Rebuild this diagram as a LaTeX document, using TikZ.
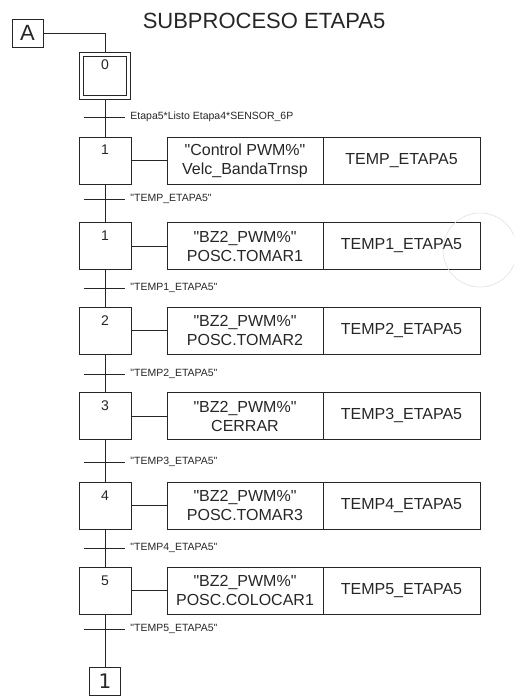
\documentclass[tikz,border=0pt]{standalone}
\usepackage{fontspec}
\setmainfont{Liberation Sans}
\newfontfamily\dejavu{DejaVu Sans}
\usetikzlibrary{positioning}
\newcommand{\qd}{\textquotedbl}

\begin{document}
\begin{tikzpicture}[x=1pt, y=-1pt, line width=0.9pt, color=black!85,
  stepbox/.style={draw, minimum width=52pt, minimum height=47pt, inner sep=0pt, outer sep=0pt,
    text height=10pt, text depth=21pt, font=\fontsize{14}{16}\selectfont},
  initbox/.style={stepbox, double, double distance=3pt, minimum width=47.2pt,
    minimum height=43.2pt, outer sep=2.4pt, text depth=22pt},
  actbox/.style={draw, minimum width=156pt, minimum height=47pt, inner sep=0pt, outer sep=0pt,
    align=center, font=\fontsize{16}{19}\selectfont},
  tmpbox/.style={actbox, minimum width=157pt},
  condlbl/.style={anchor=west, inner sep=0pt, font=\fontsize{10.5}{12}\selectfont},
  portbox/.style={draw, minimum width=31pt, minimum height=28pt, inner sep=0pt}]
  \useasboundingbox (0,0) rectangle (513,700);

  % ===== Title and entry =====
  \node[font=\fontsize{22}{26}\selectfont] (title) at (264,21) {SUBPROCESO ETAPA5};
  \node[portbox, font=\fontsize{22}{26}\selectfont] (A) at (27.5,33) {A};
  \node[initbox] (s0) at (105,76) {0};
  \draw (A) -| (s0);

  % ===== Steps, actions and transitions =====
  \foreach \i/\num/\yc/\yt/\act/\tmp/\cond in {
    1/1/160.5/117/{\qd Control PWM\%\qd\\Velc\_BandaTrnsp}/TEMP\_ETAPA5/{Etapa5*Listo Etapa4*SENSOR\_6P},
    2/1/246/199/{\qd BZ2\_PWM\%\qd\\POSC.TOMAR1}/TEMP1\_ETAPA5/{\qd TEMP\_ETAPA5\qd},
    3/2/330.5/288/{\qd BZ2\_PWM\%\qd\\POSC.TOMAR2}/TEMP2\_ETAPA5/{\qd TEMP1\_ETAPA5\qd},
    4/3/416/374/{\qd BZ2\_PWM\%\qd\\CERRAR}/TEMP3\_ETAPA5/{\qd TEMP2\_ETAPA5\qd},
    5/4/505.5/462/{\qd BZ2\_PWM\%\qd\\POSC.TOMAR3}/TEMP4\_ETAPA5/{\qd TEMP3\_ETAPA5\qd},
    6/5/590.5/548/{\qd BZ2\_PWM\%\qd\\POSC.COLOCAR1}/TEMP5\_ETAPA5/{\qd TEMP4\_ETAPA5\qd}} {
    \pgfmathtruncatemacro\prev{\i-1}
    \node[stepbox] (s\i) at (105,\yc) {\num};
    \node[actbox, right=36pt of s\i] (act\i) {\act};
    \node[tmpbox, right=0pt of act\i] (tmp\i) {\tmp};
    \draw (s\i) -- (act\i);
    \draw (s\prev) -- (s\i);
    \coordinate (t\i) at (105,\yt);
    \draw ([xshift=-21pt]t\i) -- ([xshift=20pt]t\i);
    \node[condlbl] (c\i) at ([xshift=25pt]t\i) {\cond};
  }

  % ===== Exit =====
  \coordinate (t7) at (105,629);
  \draw ([xshift=-21pt]t7) -- ([xshift=20pt]t7);
  \node[condlbl] (c7) at ([xshift=25pt]t7) {\qd TEMP5\_ETAPA5\qd};
  \node[portbox, font=\dejavu\fontsize{20}{24}\selectfont] (fin) at (105,681) {1};
  \draw (s6) -- (fin);

  % faint mark
  \draw[black!12, line width=0.6pt] (480,250) circle (37pt);
\end{tikzpicture}
\end{document}
